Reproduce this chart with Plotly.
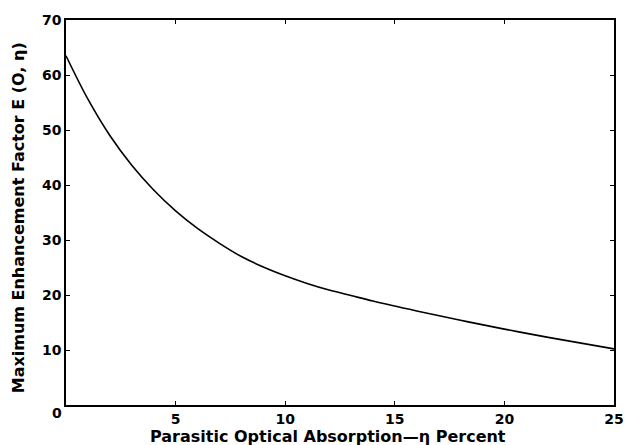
import plotly.graph_objects as go

# Data
absorption_pct = [0, 1, 2, 3, 4, 5, 6, 7, 8, 9, 10, 11, 12, 13, 14, 16, 18, 20, 22, 25]
enhancement = [63.5, 55.6, 49.0, 43.6, 39.1, 35.3, 32.1, 29.4, 27.0, 25.1, 23.5,
               22.1, 20.9, 19.9, 18.9, 17.1, 15.4, 13.8, 12.3, 10.2]

x_ticks = [5, 10, 15, 20, 25]
y_ticks = [10, 20, 30, 40, 50, 60, 70]

FONT = "DejaVu Sans, Arial, sans-serif"

fig = go.Figure()
fig.add_trace(go.Scatter(
    x=absorption_pct, y=enhancement, mode="lines",
    line=dict(color="black", width=1.6, shape="spline", smoothing=1.0),
    showlegend=False, hoverinfo="skip",
))

axis_common = dict(
    showgrid=False, zeroline=False, showline=True, linecolor="black",
    linewidth=1.5, mirror="ticks", ticks="inside", ticklen=4,
    tickcolor="black", tickwidth=1,
    tickfont=dict(family=FONT, size=14, color="black", weight="bold"),
)

fig.update_xaxes(range=[0, 25], tickvals=x_ticks, ticktext=[str(v) for v in x_ticks],
                 **axis_common)
fig.update_yaxes(range=[0, 70], tickvals=y_ticks, ticktext=[str(v) for v in y_ticks],
                 **axis_common)

fig.add_annotation(text="0", xref="paper", yref="paper", x=0, y=0,
                   xanchor="center", yanchor="middle",
                   xshift=-9, yshift=-8, showarrow=False,
                   font=dict(family=FONT, size=14, color="black", weight="bold"))
fig.add_annotation(text="Parasitic Optical Absorption\u2014\u03b7 Percent",
                   xref="paper", yref="paper", x=0.478, y=0, yshift=-31,
                   xanchor="center", yanchor="middle", showarrow=False,
                   font=dict(family=FONT, size=16, color="black", weight="bold"))
fig.add_annotation(text="Maximum Enhancement Factor E (O, \u03b7)",
                   xref="paper", yref="paper", x=0, xshift=-48, y=0.485,
                   textangle=-90, xanchor="center", yanchor="middle", showarrow=False,
                   font=dict(family=FONT, size=16, color="black", weight="bold"))

fig.update_layout(
    width=636, height=445,
    margin=dict(l=66, r=12, t=19, b=40),
    paper_bgcolor="white", plot_bgcolor="white",
)

fig.write_html("out.html")
